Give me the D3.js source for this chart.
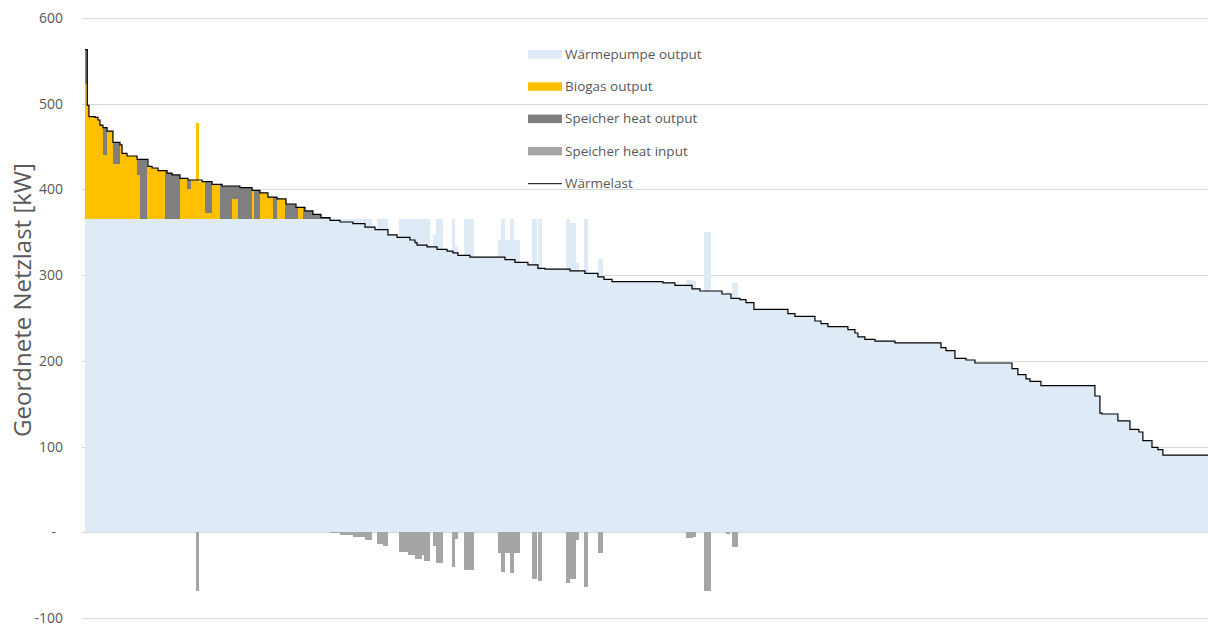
<!DOCTYPE html>
<html><head><meta charset="utf-8">
<script src="https://cdn.jsdelivr.net/npm/d3@7"></script>
<style>
body{margin:0;background:#fff;}
svg{display:block;}
text{font-family:"Open Sans","Noto Sans",sans-serif;}
</style>
</head><body>
<svg id="chart" width="1208" height="627"></svg>
<script>
// ---- data (hours ranked by heat load, step values in kW) ----
const totalHours = 8760;
const yTicks = [-100, 0, 100, 200, 300, 400, 500, 600];
const legendLabels = ["Wärmepumpe output", "Biogas output", "Speicher heat output", "Speicher heat input", "Wärmelast"];
const yAxisTitle = "Geordnete Netzlast [kW]";

// Wärmelast: [start hour, kW]
const load = [[0,563],[18,498],[31,485],[78,484],[101,481],[117,475],[140,472],[172,468],[218,455],[273,452],[289,442],[328,439],[406,435],[491,427],[523,425],[569,422],[640,419],[679,417],[741,413],[803,411],[913,409],[991,406],[1069,404],[1209,402],[1303,399],[1365,396],[1427,391],[1498,389],[1568,383],[1646,379],[1716,375],[1778,371],[1841,367],[1911,364],[1989,362],[2090,360],[2184,356],[2262,353],[2363,347],[2434,344],[2535,341],[2574,338],[2590,335],[2668,333],[2746,330],[2824,328],[2870,326],[2909,323],[3003,321],[3276,318],[3354,315],[3455,312],[3533,308],[3588,307],[3783,305],[3900,302],[4001,298],[4048,295],[4111,292.5],[4508,291],[4602,288],[4735,284],[4797,281.5],[4969,278],[5039,273],[5109,271.5],[5156,268],[5218,260],[5483,255],[5538,252],[5694,246.5],[5741,243.5],[5795,240],[5951,236.5],[6006,232.5],[6029,228],[6084,225],[6162,223],[6318,221],[6677,215.5],[6716,212],[6786,203],[6872,201],[6942,197.5],[7231,191],[7277,184],[7340,179],[7371,176],[7457,171],[7878,159],[7917,139],[7933,138],[8057,130],[8151,120],[8221,117],[8252,107],[8323,99],[8369,96.5],[8408,90]];

// Wärmepumpe output
const heatPump = [[0,365],[2239,356],[2262,353],[2278,365],[2363,347],[2434,344],[2449,365],[2691,333],[2714,347],[2738,365],[2792,330],[2824,328],[2863,365],[2886,334],[2909,323],[2956,365],[3034,321],[3221,341],[3245,365],[3276,341],[3315,365],[3346,341],[3393,315],[3455,312],[3487,365],[3526,312],[3533,365],[3565,307],[3752,365],[3783,361],[3830,314],[3853,305],[3892,365],[3923,302],[4001,319],[4040,298],[4048,295],[4111,292.5],[4508,291],[4602,288],[4688,294],[4742,293],[4766,284],[4797,281.5],[4828,350],[4883,281.5],[4969,278],[5000,280],[5031,278],[5039,273],[5047,291],[5093,273],[5109,271.5],[5156,268],[5218,260],[5483,255],[5538,252],[5694,246.5],[5741,243.5],[5795,240],[5951,236.5],[6006,232.5],[6029,228],[6084,225],[6162,223],[6318,221],[6677,215.5],[6716,212],[6786,203],[6872,201],[6942,197.5],[7231,191],[7277,184],[7340,179],[7371,176],[7457,171],[7878,159],[7917,139],[7933,138],[8057,130],[8151,120],[8221,117],[8252,107],[8323,99],[8369,96.5],[8408,90]];

// Biogas output
const biogas = [[0,158],[18,133],[31,120],[78,119],[101,116],[117,110],[140,75],[172,103],[218,65],[273,87],[289,77],[328,74],[406,52],[429,0],[484,70],[491,62],[523,60],[569,57],[624,0],[741,48],[796,35],[827,46],[866,113],[889,44],[936,8],[991,41],[1053,0],[1147,24],[1193,0],[1303,34],[1318,0],[1365,31],[1427,26],[1466,0],[1498,24],[1560,0],[1661,14],[1700,0]];

// Speicher heat output
const storageOut = [[0,40],[18,0],[140,32],[172,0],[218,25],[273,0],[406,18],[429,70],[484,0],[624,57],[640,54],[679,52],[741,0],[796,11],[827,0],[936,36],[991,0],[1053,41],[1069,39],[1147,15],[1193,39],[1209,37],[1303,0],[1318,34],[1365,0],[1466,26],[1498,0],[1560,24],[1568,18],[1646,14],[1661,0],[1700,14],[1716,10],[1778,6],[1841,2],[1911,0]];

// Speicher heat input (negative)
const storageIn = [[866,-69],[889,0],[1911,-1],[1989,-3],[2090,-5],[2184,-9],[2239,0],[2278,-14],[2324,-16],[2363,0],[2449,-23.5],[2519,-26],[2574,-31.5],[2629,-27],[2644,-33],[2691,0],[2714,-16],[2738,-36],[2792,0],[2863,-41],[2886,-8],[2909,0],[2956,-44],[3034,0],[3221,-24],[3245,-46],[3276,-24],[3315,-47.5],[3346,-24],[3393,0],[3487,-55],[3526,0],[3533,-56.5],[3565,0],[3752,-59],[3783,-55],[3830,-9],[3853,0],[3892,-64],[3923,0],[4001,-24],[4040,0],[4688,-6.5],[4742,-6],[4766,0],[4828,-69],[4883,0],[5000,-2],[5031,0],[5047,-17],[5093,0]];

// ---- styles ----
const colors = {hp:"#DEEAF6", bio:"#FFC000", out:"#7F7F7F", inp:"#A5A5A5", load:"#000000"};
const textColor = "#595959";

const svg = d3.select("#chart");
const mLeft = 85, mRight = 1208, mTop = 18, mBottom = 618;
const x = d3.scaleLinear().domain([0, totalHours]).range([mLeft, mRight]);
const y = d3.scaleLinear().domain([-100, 600]).range([mBottom, mTop]);

// gridlines
svg.append("g").selectAll("line").data(yTicks).join("line")
  .attr("x1", mLeft - 3).attr("x2", mRight)
  .attr("y1", d => Math.round(y(d)) + 0.5).attr("y2", d => Math.round(y(d)) + 0.5)
  .attr("stroke", "#D9D9D9").attr("stroke-width", 1);

// merge step series into segments
const breaks = Array.from(new Set([load, heatPump, biogas, storageOut, storageIn].flat().map(d => d[0]))).sort((a, b) => a - b);
function stepAt(series, h) { let v = 0; for (const [s, val] of series) { if (s <= h) v = val; else break; } return v; }
const rows = breaks.map((h, i) => ({
  h0: h, h1: i < breaks.length - 1 ? breaks[i + 1] : totalHours,
  hp: stepAt(heatPump, h), bio: stepAt(biogas, h), out: stepAt(storageOut, h), inp: stepAt(storageIn, h)
}));
const keys = ["hp", "bio", "out", "inp"];
const stacked = d3.stack().keys(keys).offset(d3.stackOffsetDiverging)(rows);

const barsG = svg.append("g").attr("shape-rendering", "crispEdges");
stacked.forEach(layer => {
  barsG.append("g").attr("fill", colors[layer.key])
    .selectAll("rect").data(layer.filter(d => d[1] !== d[0])).join("rect")
    .attr("x", d => x(d.data.h0))
    .attr("width", d => Math.max(0.5, x(d.data.h1) - x(d.data.h0)))
    .attr("y", d => y(Math.max(d[0], d[1])))
    .attr("height", d => Math.abs(y(d[0]) - y(d[1])));
});

// load line
const lineData = load.concat([[totalHours, load[load.length - 1][1]]]);
svg.append("path").datum(lineData)
  .attr("fill", "none").attr("stroke", colors.load).attr("stroke-width", 1.2)
  .attr("d", d3.line().x(d => x(d[0])).y(d => y(d[1])).curve(d3.curveStepAfter));

// y axis labels
const yAxis = d3.axisLeft(y).tickValues(yTicks).tickSize(0).tickPadding(22)
  .tickFormat(d => d === 0 ? "-" : String(d));
const ax = svg.append("g").attr("transform", `translate(${mLeft},0)`).call(yAxis);
ax.select(".domain").remove();
ax.selectAll("text").attr("fill", textColor).style("font-size", "14px")
  .style("font-family", '"Open Sans", sans-serif')
  .attr("dx", d => d === 0 ? -7 : 0);

// y axis title
svg.append("text")
  .attr("transform", `translate(31,300) rotate(-90)`)
  .attr("text-anchor", "middle").attr("fill", textColor).style("font-size", "24px")
  .text(yAxisTitle);

// legend
const legendKeys = ["hp", "bio", "out", "inp", "load"];
const lg = svg.append("g").attr("transform", "translate(528,54)");
legendKeys.forEach((k, i) => {
  const g = lg.append("g").attr("transform", `translate(0,${i * 32.3})`);
  if (k === "load") {
    g.append("line").attr("x1", 0).attr("x2", 34).attr("y1", 0.5).attr("y2", 0.5).attr("stroke", "#000").attr("stroke-width", 1);
  } else {
    g.append("rect").attr("x", 0).attr("y", -4).attr("width", 34).attr("height", 8.5).attr("fill", colors[k]);
  }
  g.append("text").attr("x", 37).attr("y", 0).attr("dy", "0.35em").attr("fill", textColor)
    .style("font-size", "13.5px").text(legendLabels[i]);
});
</script>
</body></html>
